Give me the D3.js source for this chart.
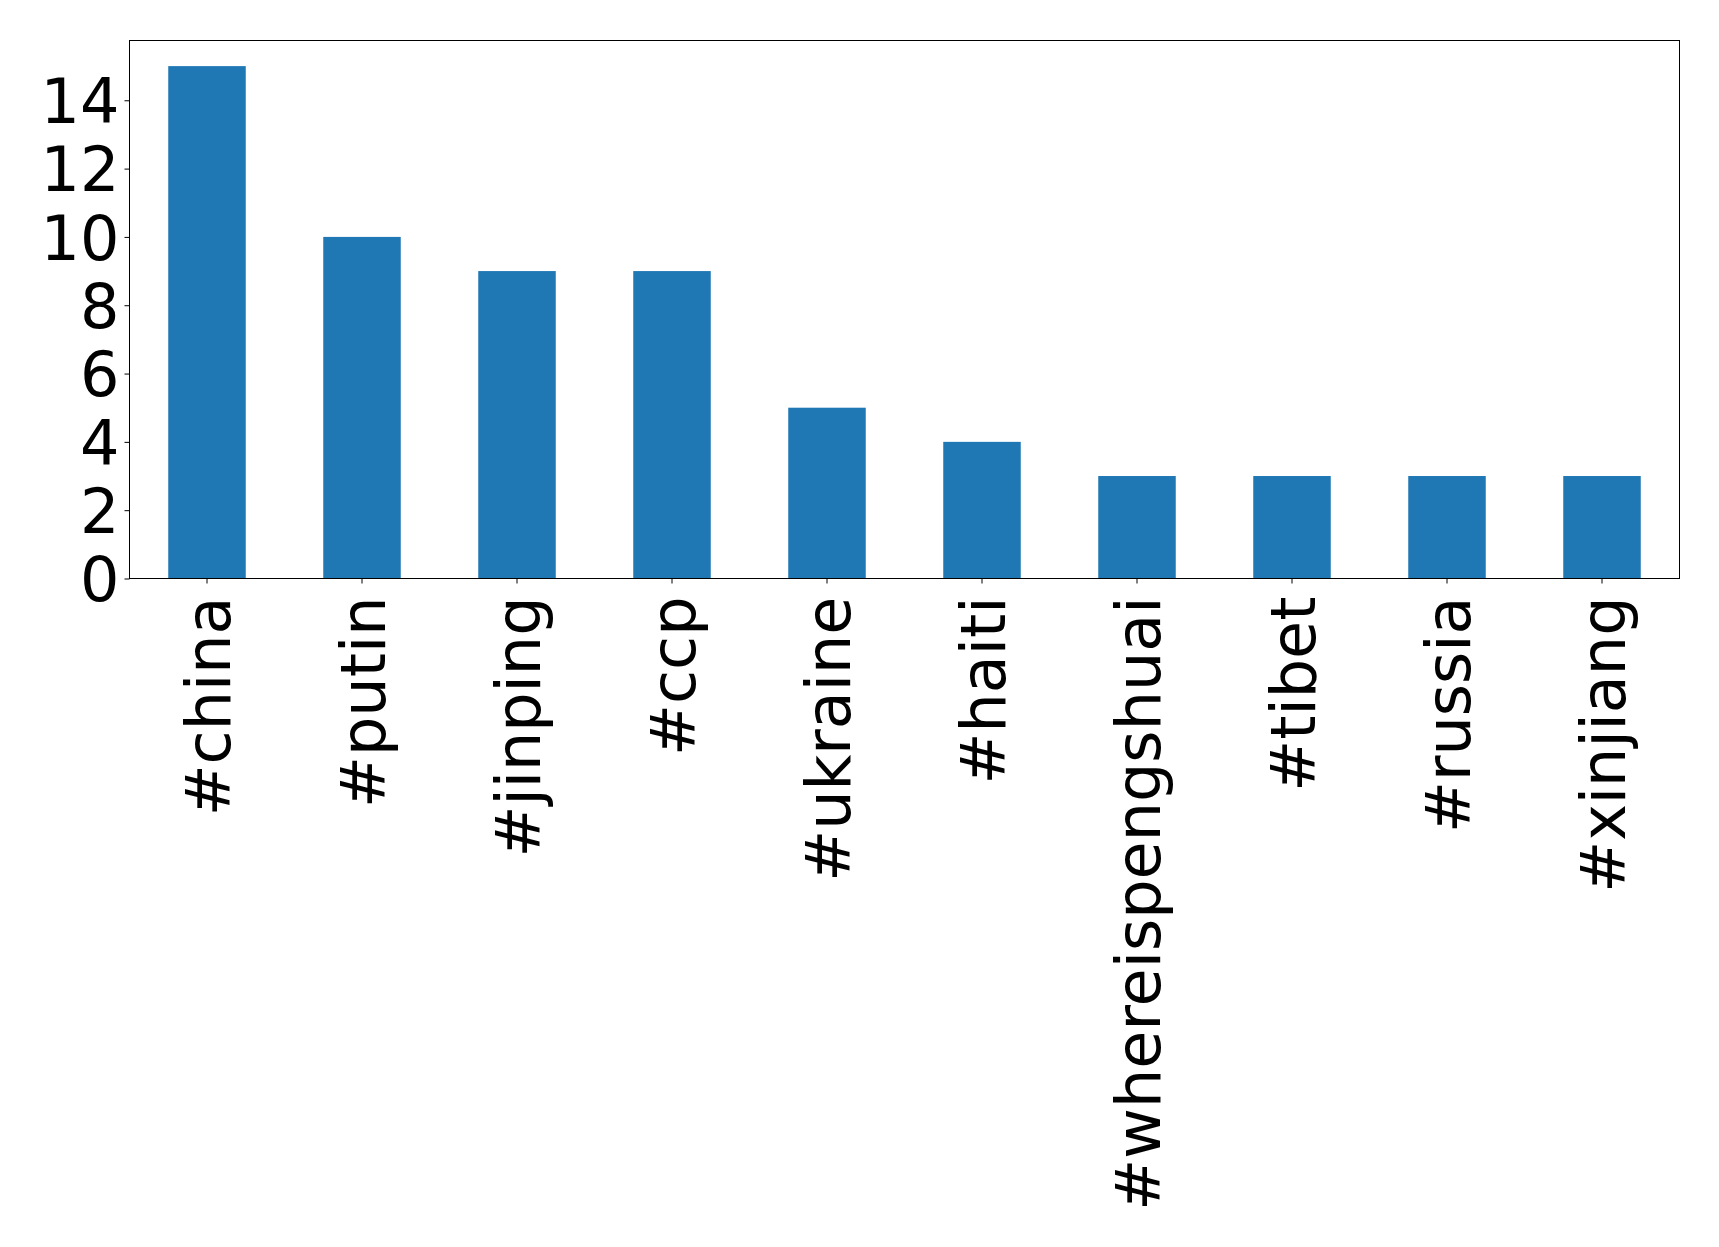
<!DOCTYPE html>
<html>
<head>
<meta charset="utf-8">
<script src="https://cdn.jsdelivr.net/npm/d3@7"></script>
<style>
  html, body { margin: 0; padding: 0; background: #fff; }
  svg { display: block; }
</style>
</head>
<body>
<script>
const categories = ["#china", "#putin", "#jinping", "#ccp", "#ukraine", "#haiti", "#whereispengshuai", "#tibet", "#russia", "#xinjiang"];
const counts = [15, 10, 9, 9, 5, 4, 3, 3, 3, 3];
const yTicks = [0, 2, 4, 6, 8, 10, 12, 14];

const W = 1719, H = 1247;
const margin = { left: 129.5, right: 1679.5, top: 40.5, bottom: 578.5 };
const fontSize = 62;

const svg = d3.select("body").append("svg").attr("width", W).attr("height", H);

const x = d3.scaleBand().domain(categories)
  .range([margin.left, margin.right]).paddingInner(0.5).paddingOuter(0.25);
const y = d3.scaleLinear().domain([0, d3.max(counts) * 1.05]).range([margin.bottom, margin.top]);

// bars
svg.append("g").selectAll("rect").data(categories).join("rect")
  .attr("x", d => x(d))
  .attr("width", x.bandwidth())
  .attr("y", (d, i) => y(counts[i]))
  .attr("height", (d, i) => y(0) - y(counts[i]))
  .attr("fill", "#1f77b4");

// y axis
const yAxis = svg.append("g").attr("transform", `translate(${margin.left},0)`)
  .call(d3.axisLeft(y).tickValues(yTicks).tickSize(5).tickPadding(5).tickFormat(d3.format("d")));
yAxis.select(".domain").remove();
yAxis.selectAll("text").attr("font-family", "DejaVu Sans").attr("font-size", fontSize).attr("fill", "#000").attr("dy", "0.36em");
yAxis.selectAll("line").attr("stroke", "#000");

// x axis
const xAxis = svg.append("g").attr("transform", `translate(0,${margin.bottom})`)
  .call(d3.axisBottom(x).tickSize(5).tickPadding(0));
xAxis.select(".domain").remove();
xAxis.selectAll("line").attr("stroke", "#000");
xAxis.selectAll("text")
  .attr("font-family", "DejaVu Sans").attr("font-size", fontSize).attr("fill", "#000")
  .attr("text-anchor", "end")
  .attr("transform", "translate(0,18) rotate(-90)")
  .attr("x", 0).attr("y", 0).attr("dy", "0.37em");

// frame
svg.append("rect")
  .attr("x", margin.left).attr("y", margin.top)
  .attr("width", margin.right - margin.left).attr("height", margin.bottom - margin.top)
  .attr("fill", "none").attr("stroke", "#000").attr("stroke-width", 1);
</script>
</body>
</html>
